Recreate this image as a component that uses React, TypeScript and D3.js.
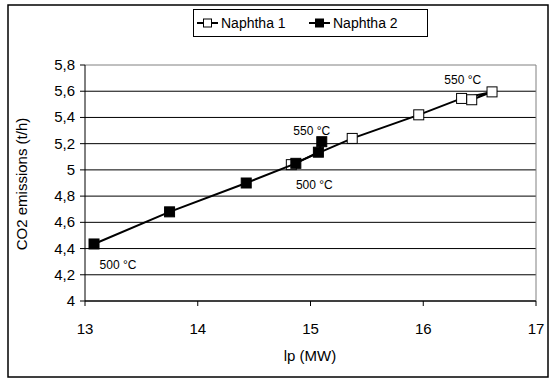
import * as d3 from 'd3'

// Naphtha 1 (white markers) and Naphtha 2 (black markers), in series order
const naphtha1X = [14.83, 15.37, 15.96, 16.34, 16.61, 16.43]
const naphtha1Y = [5.04, 5.24, 5.42, 5.545, 5.595, 5.535]
const naphtha2X = [13.08, 13.75, 14.43, 14.87, 15.07, 15.1]
const naphtha2Y = [4.435, 4.68, 4.9, 5.05, 5.135, 5.215]

const xTicks = [13, 14, 15, 16, 17]
const yTicks = [4, 4.2, 4.4, 4.6, 4.8, 5, 5.2, 5.4, 5.6, 5.8]

const seriesNames = ['Naphtha 1', 'Naphtha 2']

// point labels: series index, point index, text
const pointLabels: [number, number, string][] = [
  [0, 5, '550 °C'],
  [0, 0, '500 °C'],
  [1, 5, '550 °C'],
  [1, 0, '500 °C'],
]

const W = 552
const H = 380
const FONT = '"Liberation Sans", Arial, sans-serif'

export default function App() {
  const plot = { left: 85, right: 536, top: 65, bottom: 301 }

  const x = d3.scaleLinear().domain([13, 17]).range([plot.left, plot.right])
  const y = d3.scaleLinear().domain([4, 5.8]).range([plot.bottom, plot.top])
  const fmt = (v: number) => d3.format('~g')(v).replace('.', ',')

  const series = [
    { pts: d3.zip(naphtha1X, naphtha1Y) as [number, number][], fill: '#fff' },
    { pts: d3.zip(naphtha2X, naphtha2Y) as [number, number][], fill: '#000' },
  ]
  const line = d3
    .line<[number, number]>()
    .x((d) => x(d[0]))
    .y((d) => y(d[1]))

  // label offsets in px, same order as pointLabels
  const labelOffsets = [
    [-9, -16],
    [23, 24],
    [-10, -7],
    [24, 25],
  ]

  const ms = 10 // marker size

  return (
    <svg
      width={W}
      height={H}
      style={{ position: 'absolute', left: 0, top: 0, background: '#fff' }}
      fontFamily={FONT}
    >
      <rect x={0} y={0} width={W} height={H} fill="#fff" />
      <rect x={8} y={5} width={540} height={372} fill="none" stroke="#000" strokeWidth={1.5} />

      {/* gridlines */}
      {yTicks.map((t) => (
        <line
          key={'g' + t}
          x1={plot.left}
          x2={plot.right}
          y1={y(t)}
          y2={y(t)}
          stroke={t === 5.8 ? '#808080' : '#000'}
          strokeWidth={1}
        />
      ))}
      <line x1={plot.right} x2={plot.right} y1={plot.top} y2={plot.bottom} stroke="#808080" />

      {/* axes */}
      <line x1={plot.left} x2={plot.left} y1={plot.top} y2={plot.bottom} stroke="#000" />
      <line x1={plot.left} x2={plot.right} y1={plot.bottom} y2={plot.bottom} stroke="#000" />
      {yTicks.map((t) => (
        <g key={'yt' + t}>
          <line x1={plot.left - 5} x2={plot.left} y1={y(t)} y2={y(t)} stroke="#000" />
          <text x={plot.left - 10} y={y(t) + 5} textAnchor="end" fontSize={15}>
            {fmt(t)}
          </text>
        </g>
      ))}
      {xTicks.map((t) => (
        <g key={'xt' + t}>
          <line x1={x(t)} x2={x(t)} y1={plot.bottom} y2={plot.bottom + 5} stroke="#000" />
          <text x={x(t)} y={plot.bottom + 33} textAnchor="middle" fontSize={15}>
            {t}
          </text>
        </g>
      ))}

      <text x={310} y={361} textAnchor="middle" fontSize={15}>
        lp (MW)
      </text>
      <text transform={`translate(27,184) rotate(-90)`} textAnchor="middle" fontSize={15}>
        CO2 emissions (t/h)
      </text>

      {/* series */}
      {series.map((s, i) => (
        <g key={'s' + i}>
          <path d={line(s.pts) ?? ''} fill="none" stroke="#000" strokeWidth={2} />
          {s.pts.map((p, j) => (
            <rect
              key={j}
              x={x(p[0]) - ms / 2}
              y={y(p[1]) - ms / 2}
              width={ms}
              height={ms}
              fill={s.fill}
              stroke="#000"
              strokeWidth={1}
            />
          ))}
        </g>
      ))}

      {pointLabels.map(([si, pi, txt], k) => {
        const p = series[si].pts[pi]
        return (
          <text
            key={'pl' + k}
            x={x(p[0]) + labelOffsets[k][0]}
            y={y(p[1]) + labelOffsets[k][1]}
            textAnchor="middle"
            fontSize={12}
          >
            {txt}
          </text>
        )
      })}

      {/* legend */}
      <rect x={193.5} y={9.5} width={234} height={27} fill="#fff" stroke="#000" />
      {seriesNames.map((name, i) => {
        const lx = 197 + i * 112
        return (
          <g key={name}>
            <line x1={lx} x2={lx + 21} y1={23} y2={23} stroke="#000" strokeWidth={2} />
            <rect
              x={lx + 10.5 - 4}
              y={19}
              width={8}
              height={8}
              fill={series[i].fill}
              stroke="#000"
            />
            <text x={lx + 24} y={28} fontSize={14}>
              {name}
            </text>
          </g>
        )
      })}
    </svg>
  )
}
